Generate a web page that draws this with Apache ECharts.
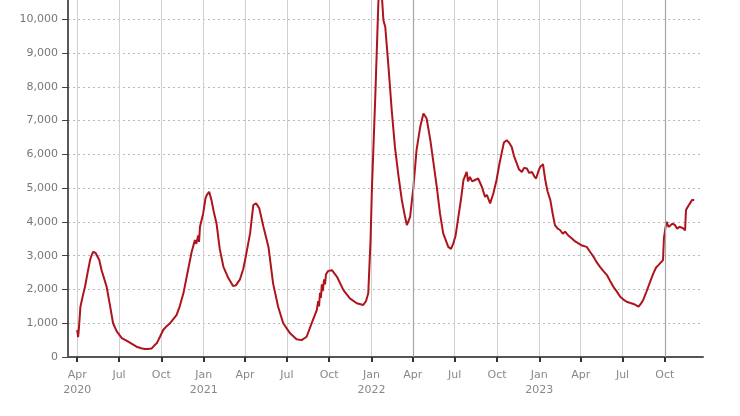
<!DOCTYPE html>
<html>
<head>
<meta charset="utf-8">
<script src="https://cdn.jsdelivr.net/npm/echarts@6/dist/echarts.min.js"></script>
<style>
  html, body { margin: 0; padding: 0; background: #fff; }
  #chart { width: 740px; height: 416px; }
</style>
</head>
<body>
<div id="chart"></div>
<script>
// days since 2020-04-01 and the daily value
const days = [
  0, 2, 4, 7, 12, 17, 22, 28, 31, 35, 40, 44, 48, 53, 58, 64, 71, 78, 86, 97,
  104, 107, 111, 119, 129, 139, 147, 154, 158, 162, 167, 173, 180, 187, 195, 202, 209, 216, 223, 231,
  240, 249, 256, 259, 263, 265, 267, 274, 279, 282, 287, 292, 297, 303, 310, 318, 329, 339, 345, 354,
  361, 367, 376, 383, 389, 396, 405, 416, 426, 437, 448, 463, 477, 488, 499, 510, 521, 524, 526, 528,
  530, 532, 534, 537, 539, 541, 546, 554, 565, 579, 593, 608, 622, 628, 633, 638, 641, 648, 655, 659,
  663, 666, 670, 677, 684, 691, 699, 706, 713, 717, 724, 731, 738, 746, 753, 756, 760, 768, 775, 782,
  789, 796, 807, 813, 818, 823, 829, 835, 840, 847, 850, 854, 859, 865, 872, 880, 887, 891, 898, 905,
  912, 918, 923, 928, 934, 939, 945, 950, 956, 961, 967, 972, 978, 983, 989, 994, 998, 1003, 1007, 1013,
  1018, 1023, 1029, 1034, 1039, 1045, 1050, 1056, 1061, 1068, 1076, 1083, 1090, 1098, 1108, 1116, 1123, 1130, 1137, 1144,
  1152, 1159, 1166, 1173, 1181, 1188, 1195, 1203, 1210, 1216, 1221, 1226, 1231, 1237, 1242, 1248, 1253, 1259, 1264, 1274,
  1276, 1279, 1282, 1286, 1289, 1295, 1300, 1305, 1310, 1314, 1318, 1322, 1324, 1328, 1331, 1337, 1342
];
const cases = [
  800, 590, 900, 1490, 1800, 2080, 2450, 2870, 3000, 3115, 3080, 3075, 2870, 2570, 2350, 2080, 1550, 1000, 760, 560,
  510, 530, 455, 390, 305, 260, 235, 240, 260, 255, 330, 405, 600, 800, 920, 1000, 1120, 1240, 1500, 1885,
  2500, 3115, 3460, 3350, 3600, 3410, 3855, 4250, 4695, 4800, 4890, 4645, 4300, 3955, 3200, 2670, 2330, 2100, 2120, 2300,
  2600, 3000, 3660, 4500, 4550, 4400, 3855, 3260, 2180, 1490, 1000, 700, 525, 500, 600, 1000, 1390, 1650, 1500, 1900,
  1750, 2150, 1950, 2300, 2150, 2450, 2550, 2570, 2375, 1980, 1735, 1590, 1540, 1650, 1885, 3460, 5000, 7600, 10500, 11200,
  10600, 9970, 9770, 8590, 7310, 6220, 5330, 4645, 4150, 3905, 4150, 5000, 6125, 6815, 7210, 7260, 7060, 6420, 5730, 5040,
  4250, 3660, 3260, 3200, 3365, 3600, 4150, 4700, 5240, 5480, 5200, 5330, 5200, 5240, 5285, 5040, 4740, 4800, 4550, 4840,
  5240, 5700, 6030, 6350, 6420, 6350, 6220, 5950, 5730, 5550, 5480, 5600, 5580, 5450, 5480, 5350, 5285, 5500, 5630, 5710,
  5240, 4900, 4645, 4250, 3905, 3800, 3760, 3650, 3710, 3600, 3510, 3420, 3365, 3300, 3260, 3100, 2965, 2800, 2670, 2550,
  2425, 2250, 2080, 1950, 1785, 1700, 1635, 1600, 1570, 1530, 1490, 1580, 1690, 1900, 2080, 2300, 2475, 2650, 2720, 2870,
  3510, 3800, 4005, 3850, 3810, 3950, 3905, 3800, 3855, 3900, 3810, 3750, 4350, 4450, 4500, 4645, 4645
];
const tickMonths = [
  '2020-04', '2020-07', '2020-10', '2021-01', '2021-04', '2021-07', '2021-10',
  '2022-01', '2022-04', '2022-07', '2022-10', '2023-01', '2023-04', '2023-07', '2023-10'
];
const yTicks = [0, 1000, 2000, 3000, 4000, 5000, 6000, 7000, 8000, 9000, 10000];
const markMonths = ['2022-04', '2023-10'];
const monthNames = ['Jan', 'Feb', 'Mar', 'Apr', 'May', 'Jun', 'Jul', 'Aug', 'Sep', 'Oct', 'Nov', 'Dec'];

const DAY = 86400000;
const base = Date.UTC(2020, 3, 1);
const toTs = (s) => Date.UTC(+s.slice(0, 4), +s.slice(5, 7) - 1, 1);
const ticks = tickMonths.map(toTs);
const points = days.map((d, i) => [base + d * DAY, cases[i]]);

const chart = echarts.init(document.getElementById('chart'));
chart.setOption({
  animation: false,
  textStyle: { fontFamily: 'DejaVu Sans' },
  grid: { left: 68, right: 37, top: 0, bottom: 59 },
  xAxis: {
    type: 'value',
    min: Date.UTC(2020, 2, 12),
    max: Date.UTC(2023, 11, 23),
    axisLine: { lineStyle: { color: '#555', width: 2 } },
    axisTick: { customValues: ticks, length: 5, lineStyle: { color: '#333', width: 2 } },
    axisLabel: {
      customValues: ticks,
      color: '#888',
      fontSize: 11,
      lineHeight: 15,
      margin: 11,
      formatter: (v) => {
        const d = new Date(v);
        const m = d.getUTCMonth();
        const name = monthNames[m];
        if (m === 0 || v === ticks[0]) return name + '\n' + d.getUTCFullYear();
        return name;
      }
    },
    splitLine: { show: true, lineStyle: { color: '#d0d0d0', width: 1 } }
  },
  yAxis: {
    type: 'value',
    min: 0,
    max: 10570,
    axisLine: { show: true, lineStyle: { color: '#222', width: 1.5 } },
    axisTick: { show: true, customValues: yTicks, length: 6, lineStyle: { color: '#444' } },
    axisLabel: {
      customValues: yTicks,
      color: '#777',
      fontSize: 11,
      margin: 10,
      formatter: (v) => v.toLocaleString('en-US')
    },
    splitLine: { lineStyle: { color: '#bbb', type: [2, 3], width: 1 } }
  },
  series: [{
    type: 'line',
    data: points,
    showSymbol: false,
    lineStyle: { color: '#ad141c', width: 2 },
    markLine: {
      silent: true,
      symbol: 'none',
      label: { show: false },
      lineStyle: { color: '#a5a5a5', type: 'solid', width: 1.2 },
      data: markMonths.map((s) => ({ xAxis: toTs(s) }))
    }
  }]
});
</script>
</body>
</html>
